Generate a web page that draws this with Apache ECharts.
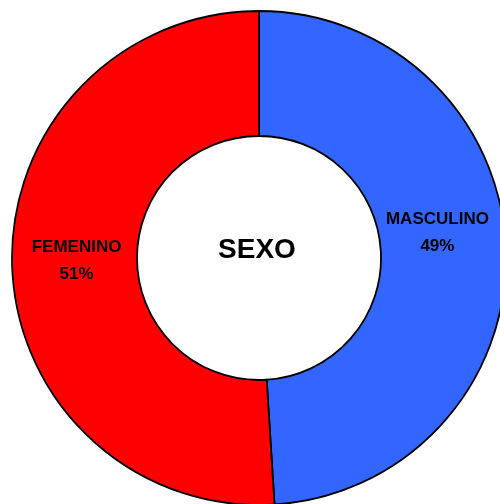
<!DOCTYPE html>
<html>
<head>
<meta charset="utf-8">
<script src="https://cdn.jsdelivr.net/npm/echarts@6/dist/echarts.min.js"></script>
<style>
  html, body { margin: 0; padding: 0; background: #fff; }
  #chart { width: 500px; height: 504px; }
</style>
</head>
<body>
<div id="chart"></div>
<script>
var categories = ['MASCULINO', 'FEMENINO']
var values = [49, 51]
var colors = ['#3366FF', '#FF0000']

var chart = echarts.init(document.getElementById('chart'), null, { renderer: 'canvas' })

chart.setOption({
  animation: false,
  title: {
    text: 'SEXO',
    left: 252,
    top: 231,
    textAlign: 'center',
    textStyle: {
      fontFamily: 'Liberation Sans, Arial, sans-serif',
      fontWeight: 'bold',
      fontSize: 28,
      color: '#000'
    }
  },
  series: [{
    name: 'SEXO',
    type: 'pie',
    center: [259, 258],
    radius: [122, 247],
    startAngle: 90,
    clockwise: true,
    itemStyle: {
      borderColor: '#000',
      borderWidth: 1.8
    },
    label: {
      show: true,
      position: 'inside',
      fontFamily: 'Liberation Sans, Arial, sans-serif',
      fontWeight: 'bold',
      fontSize: 17,
      lineHeight: 27,
      color: '#000',
      formatter: function (p) {
        return p.name + '\n' + Math.round(p.percent) + '%'
      }
    },
    labelLayout: function (p) {
      // nudge labels to where the reference shows them
      return p.dataIndex === 0 ? { dx: -9, dy: -19 } : { dx: 5, dy: -3 }
    },
    emphasis: { disabled: true },
    data: categories.map(function (c, i) {
      return { name: c, value: values[i], itemStyle: { color: colors[i] } }
    })
  }]
})
</script>
</body>
</html>
